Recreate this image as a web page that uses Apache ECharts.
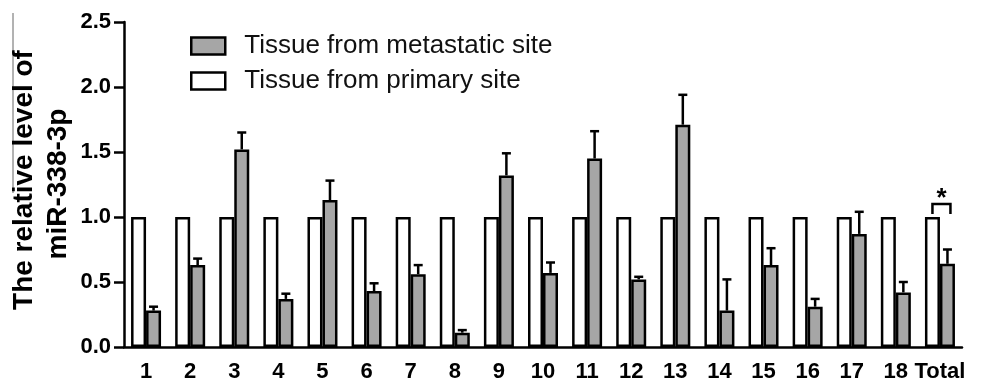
<!DOCTYPE html>
<html>
<head>
<meta charset="utf-8">
<script src="https://cdn.jsdelivr.net/npm/echarts@6/dist/echarts.min.js"></script>
<style>
  html, body { margin: 0; padding: 0; background: #fff; }
  #chart { width: 985px; height: 382px; }
</style>
</head>
<body>
<div id="chart"></div>
<script>
// categories (patients + total)
var categories = ['1', '2', '3', '4', '5', '6', '7', '8', '9', '10',
    '11', '12', '13', '14', '15', '16', '17', '18', 'Total'];

// primary site is the reference (all 1.0)
var primaryValues = [1.0, 1.0, 1.0, 1.0, 1.0, 1.0, 1.0, 1.0, 1.0, 1.0,
    1.0, 1.0, 1.0, 1.0, 1.0, 1.0, 1.0, 1.0, 1.0];

// metastatic site, mean and SD
var metastaticValues = [0.28, 0.63, 1.52, 0.37, 1.13, 0.43, 0.56, 0.11, 1.32, 0.57,
    1.45, 0.52, 1.71, 0.28, 0.63, 0.31, 0.87, 0.42, 0.64];
var metastaticErrors = [0.03, 0.05, 0.13, 0.04, 0.15, 0.06, 0.07, 0.02, 0.17, 0.08,
    0.21, 0.02, 0.23, 0.24, 0.13, 0.06, 0.17, 0.08, 0.11];

// significance bracket
var sigIndex = [18];
var sigLevel = [1.1];
var sigLabel = ['*'];

var yTicks = ['0.0', '0.5', '1.0', '1.5', '2.0', '2.5'];
var yTitle = ['The relative level of', 'miR-338-3p'];

var FONT = 'Liberation Sans, Arial, sans-serif';
var BAR_W = 15;

var chart = echarts.init(document.getElementById('chart'));

var errData = metastaticValues.map(function (v, i) {
    return [i, v, metastaticErrors[i]];
});
var sigData = sigIndex.map(function (idx, i) {
    return [idx, sigLevel[i], sigLabel[i]];
});

//y轴标题，两行竖排
var titleText = function (text, x, y) {
    return {
        type: 'text',
        x: x,
        y: y,
        rotation: Math.PI / 2,
        style: { text: text, font: 'bold 28px ' + FONT, fill: '#000', align: 'center', verticalAlign: 'middle' }
    };
};

var option = {
    animation: false,
    backgroundColor: '#fff',
    textStyle: { fontFamily: FONT },
    grid: { left: 124, right: 23, top: 22, bottom: 35, outerBoundsMode: 'none', containLabel: false },
    legend: {
        orient: 'vertical',
        left: 185,
        top: 28,
        icon: 'rect',
        itemWidth: 34,
        itemHeight: 17,
        itemGap: 9,
        data: ['Tissue from metastatic site', 'Tissue from primary site'],
        itemStyle: { borderColor: '#000', borderWidth: 2.5 },
        textStyle: { fontSize: 26, color: '#111', fontFamily: FONT, padding: [0, 0, 0, 14] }
    },
    graphic: [
        {
            type: 'line',
            shape: { x1: 13, y1: 13, x2: 13, y2: 193 },
            style: { stroke: '#666', lineWidth: 1 }
        },
        titleText(yTitle[0], 24, 180),
        titleText(yTitle[1], 58, 184)
    ],
    xAxis: {
        type: 'category',
        data: categories,
        axisLine: { lineStyle: { color: '#000', width: 2.5 } },
        axisTick: { alignWithLabel: true, length: 10, lineStyle: { color: '#000', width: 2.5 } },
        axisLabel: { interval: 0, color: '#000', fontSize: 22, fontWeight: 'bold', margin: 14, fontFamily: FONT }
    },
    yAxis: {
        type: 'value',
        min: 0,
        max: 2.5,
        interval: 0.5,
        splitLine: { show: false },
        axisLine: { show: true, lineStyle: { color: '#000', width: 2.5 } },
        axisTick: { show: true, length: 10, lineStyle: { color: '#000', width: 2.5 } },
        axisLabel: {
            color: '#000', fontSize: 22, fontWeight: 'bold', margin: 13, fontFamily: FONT,
            formatter: function (v) { return yTicks[Math.round(v / 0.5)]; }
        }
    },
    series: [
        {
            name: 'Tissue from primary site',
            type: 'bar',
            data: primaryValues,
            barWidth: BAR_W,
            barGap: '0%',
            itemStyle: { color: '#fff', borderColor: '#000', borderWidth: 2.5 }
        },
        {
            name: 'Tissue from metastatic site',
            type: 'bar',
            data: metastaticValues,
            barWidth: BAR_W,
            barGap: '0%',
            itemStyle: { color: '#a6a6a6', borderColor: '#000', borderWidth: 2.5 }
        },
        {
            // error bars on the metastatic bars
            type: 'custom',
            data: errData,
            z: 3,
            renderItem: function (params, api) {
                var top = api.coord([api.value(0), api.value(1) + api.value(2)]);
                var base = api.coord([api.value(0), api.value(1)]);
                var x = base[0] + BAR_W / 2;
                return {
                    type: 'group',
                    children: [
                        { type: 'line', shape: { x1: x, y1: base[1], x2: x, y2: top[1] },
                          style: { stroke: '#000', lineWidth: 2.5 } },
                        { type: 'line', shape: { x1: x - 4.5, y1: top[1], x2: x + 4.5, y2: top[1] },
                          style: { stroke: '#000', lineWidth: 2.5 } }
                    ]
                };
            }
        },
        {
            // significance bracket
            type: 'custom',
            data: sigData,
            z: 3,
            renderItem: function (params, api) {
                var p = api.coord([api.value(0), api.value(1)]);
                var bottom = api.coord([api.value(0), 1.0])[1] - 3;
                var xl = p[0] - BAR_W / 2, xr = p[0] + BAR_W / 2 + 3;
                return {
                    type: 'group',
                    children: [
                        { type: 'polyline', shape: { points: [[xl, bottom], [xl, p[1]], [xr, p[1]], [xr, bottom]] },
                          style: { stroke: '#000', lineWidth: 2.5, fill: null } },
                        { type: 'text', x: (xl + xr) / 2, y: p[1] + 8,
                          style: { text: api.value(2), font: 'bold 26px ' + FONT, fill: '#000',
                                   align: 'center', verticalAlign: 'bottom' } }
                    ]
                };
            }
        }
    ]
};

chart.setOption(option);
</script>
</body>
</html>
